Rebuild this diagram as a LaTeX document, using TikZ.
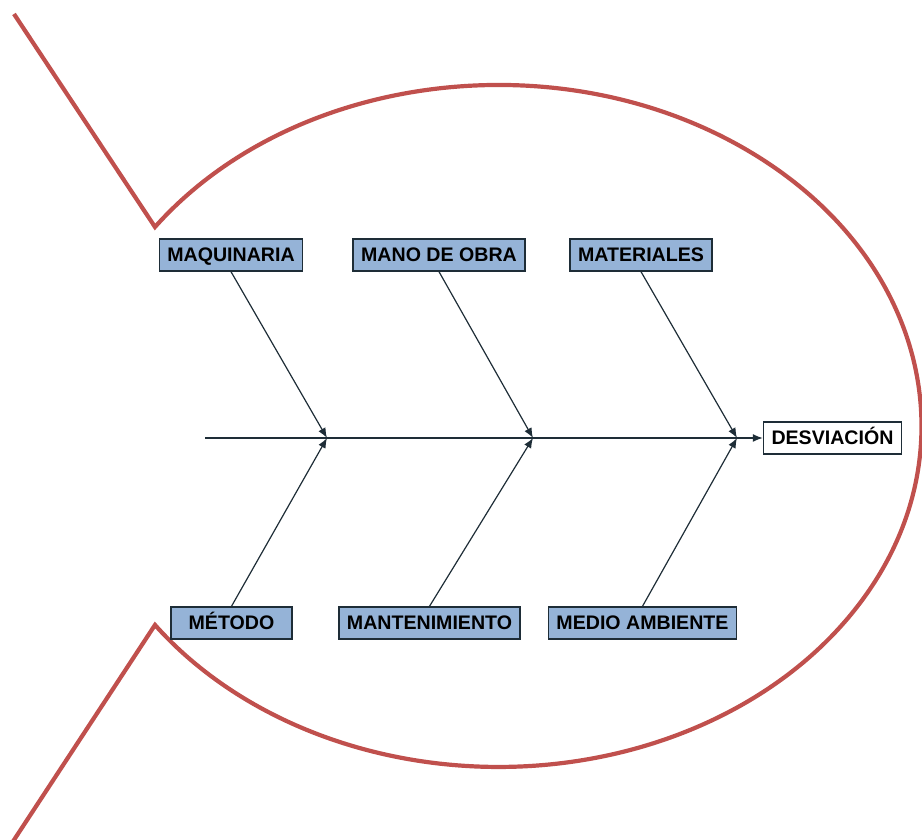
\documentclass[tikz,border=0pt]{standalone}
\usepackage{fontspec}
\setmainfont{Liberation Sans}
\usetikzlibrary{arrows.meta}
\definecolor{pez}{RGB}{192,80,77}
\definecolor{caja}{RGB}{149,179,215}
\definecolor{linea}{RGB}{30,45,55}
\begin{document}
\begin{tikzpicture}[x=0.5pt,y=0.5pt,
          flecha/.style={draw=linea,line width=0.6pt,-{Latex[length=5pt,width=4pt]}}]
          \useasboundingbox (0,0) rectangle (922,840);
          \draw[pez,line width=2.1pt] (14,826) -- (155,613)
          arc[start angle=144.3,end angle=-144.3,x radius=211.5pt,y radius=170.5pt] -- (12,-3);
          \tikzstyle{every node} = [draw=linea, fill=caja, line width=0.7pt, font=\bfseries\fontsize{9.8}{10}\selectfont, minimum height=16pt, inner xsep=4pt, inner ysep=0pt, text height=7pt, text depth=0pt];
          \node(1) at (231,585) {MAQUINARIA};
          \node(2) at (439,585) {MANO DE OBRA};
          \node(3) at (641,585) {MATERIALES};
          \node[minimum width=60.5pt](4) at (231.5,217) {MÉTODO};
          \node(5) at (429.5,217) {MANTENIMIENTO};
          \node(6) at (642.5,217) {MEDIO AMBIENTE};
          \node[fill=white](7) at (832.5,402) {DESVIACIÓN};
          \tikzstyle{every node} = []
          \coordinate(0) at (205,402);
          \coordinate(a) at (327,402);
          \coordinate(b) at (533,402);
          \coordinate(c) at (737,402);
          \path
          (0) edge[flecha,line width=0.7pt] (7);
          \path
          (1.south) edge[flecha] (a);
          \path
          (2.south) edge[flecha] (b);
          \path
          (3.south) edge[flecha] (c);
          \path
          (4.north) edge[flecha] (a);
          \path
          (5.north) edge[flecha] (b);
          \path
          (6.north) edge[flecha] (c);
\end{tikzpicture}
\end{document}
